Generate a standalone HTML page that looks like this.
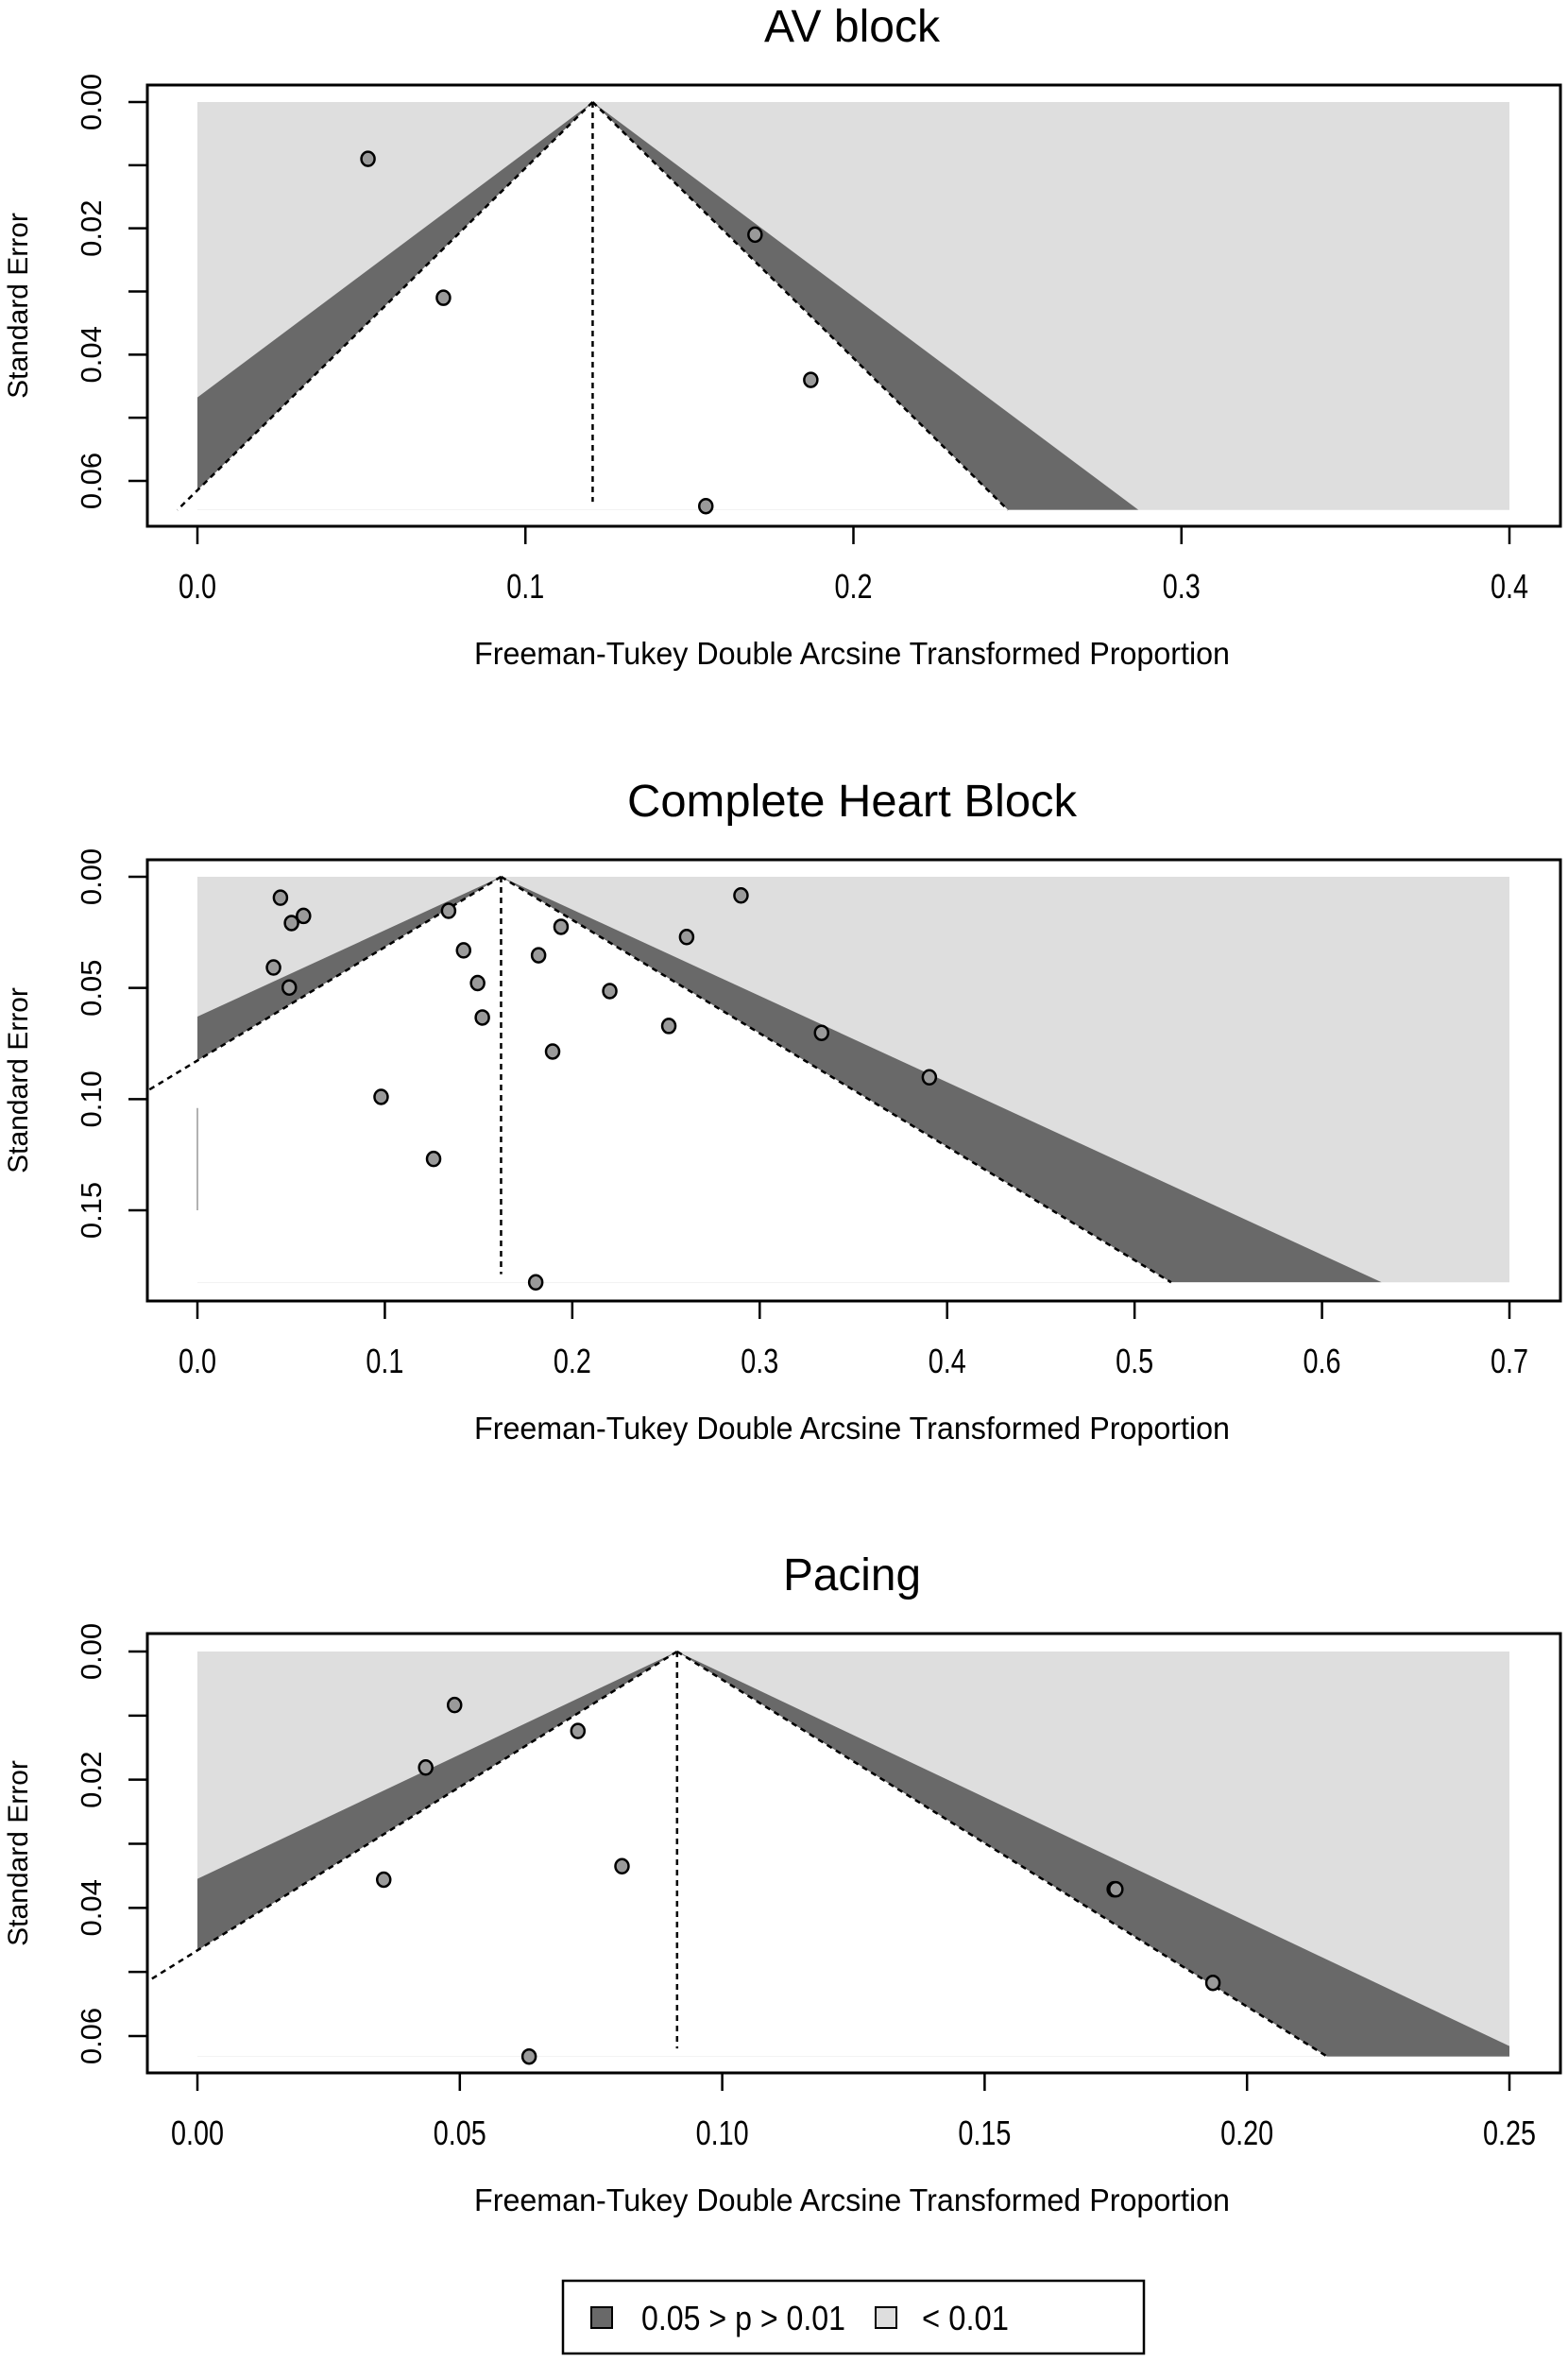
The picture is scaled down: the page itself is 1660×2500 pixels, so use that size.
<!DOCTYPE html>
<html><head><meta charset="utf-8"><style>
html,body{margin:0;padding:0;background:#fff;}
svg{display:block;font-family:"Liberation Sans",sans-serif;}
</style></head><body>
<svg id="chart" width="1660" height="2500" viewBox="0 0 1660 2500" xmlns="http://www.w3.org/2000/svg"></svg>
<script>
// Panel 1: AV block
const avX = [0.052, 0.075, 0.170, 0.187, 0.155];
const avSE = [0.009, 0.031, 0.021, 0.044, 0.064];
const avXTicks = [0.0, 0.1, 0.2, 0.3, 0.4];
const avXTickLabels = ["0.0", "0.1", "0.2", "0.3", "0.4"];
const avYTicks = [0, 0.01, 0.02, 0.03, 0.04, 0.05, 0.06];
const avYTickLabels = ["0.00", "", "0.02", "", "0.04", "", "0.06"];
// Panel 2: Complete Heart Block
const chbX = [0.0443, 0.0566, 0.0502, 0.134, 0.0406, 0.049, 0.142, 0.1495, 0.152, 0.182, 0.194, 0.220, 0.261, 0.290, 0.2515, 0.1895, 0.333, 0.3905, 0.098, 0.126, 0.1805];
const chbSE = [0.0094, 0.0176, 0.0208, 0.0153, 0.0408, 0.0498, 0.0331, 0.0478, 0.0633, 0.0353, 0.0225, 0.0514, 0.0271, 0.0084, 0.0671, 0.0786, 0.0702, 0.0902, 0.099, 0.1269, 0.1824];
const chbXTicks = [0, 0.1, 0.2, 0.3, 0.4, 0.5, 0.6, 0.7];
const chbXTickLabels = ["0.0", "0.1", "0.2", "0.3", "0.4", "0.5", "0.6", "0.7"];
const chbYTicks = [0, 0.05, 0.10, 0.15];
const chbYTickLabels = ["0.00", "0.05", "0.10", "0.15"];
// Panel 3: Pacing
const pacX = [0.049, 0.0725, 0.0435, 0.0355, 0.0809, 0.0632, 0.1747, 0.1750, 0.1935];
const pacSE = [0.00835, 0.0124, 0.0181, 0.0356, 0.0335, 0.0632, 0.0371, 0.0371, 0.0517];
const pacXTicks = [0, 0.05, 0.10, 0.15, 0.20, 0.25];
const pacXTickLabels = ["0.00", "0.05", "0.10", "0.15", "0.20", "0.25"];
const pacYTicks = [0, 0.01, 0.02, 0.03, 0.04, 0.05, 0.06];
const pacYTickLabels = ["0.00", "", "0.02", "", "0.04", "", "0.06"];
// Pooled estimates and SE max
const centers = [0.1205, 0.162, 0.0914];
const seMaxes = [0.0646, 0.1824, 0.0632];

const NS = "http://www.w3.org/2000/svg";
const svg = document.getElementById("chart");
function mk(tag, attrs, parent) {
  const e = document.createElementNS(NS, tag);
  for (const k in attrs) e.setAttribute(k, attrs[k]);
  (parent || svg).appendChild(e);
  return e;
}

function panel(cfg) {
  const g = mk("g", {});
  
  
  const X = v => cfg.x0 + (v - cfg.xmin) * cfg.xs;
  const Y = v => cfg.y0 + v * cfg.ys;
  const c = cfg.center, m = cfg.seMax;
  const clipId = "clip-" + cfg.name;
  const cp = mk("clipPath", {id: clipId}, g);
  mk("rect", {x: X(cfg.xmin), y: Y(0), width: X(cfg.xmax) - X(cfg.xmin), height: Y(m) - Y(0)}, cp);
  const boxClip = "box-" + cfg.name;
  const bc = mk("clipPath", {id: boxClip}, g);
  mk("rect", {x: cfg.bx0, y: cfg.by0, width: cfg.bx1 - cfg.bx0, height: cfg.by1 - cfg.by0}, bc);
  const bg = mk("rect", {x: X(cfg.xmin), y: Y(0), width: X(cfg.xmax) - X(cfg.xmin), height: Y(m) - Y(0), fill: "#dedede"}, g);
  
  
  const fg = mk("g", {"clip-path": "url(#" + clipId + ")"}, g);
  const outer = mk("polygon", {points: `${X(c)},${Y(0)} ${X(c - 2.576 * m)},${Y(m)} ${X(c + 2.576 * m)},${Y(m)}`, fill: "#696969"}, fg);
  
  
  const m2 = m * 1.05;
  const inner = mk("polygon", {points: `${X(c)},${Y(0)} ${X(c - 1.96 * m2)},${Y(m2)} ${X(c + 1.96 * m2)},${Y(m2)}`, fill: "#fff"}, g);
  
  
  inner.setAttribute('clip-path', "url(#" + clipId + ")");
  if (cfg.artifact) {
    const a = mk("line", {x1: X(0), y1: Y(cfg.artifact[0]), x2: X(0), y2: Y(cfg.artifact[1]), stroke: "#999", "stroke-width": 1.5}, g);
    
    
  }
  const dg = mk("g", {"clip-path": "url(#" + boxClip + ")", stroke: "#000", "stroke-width": 2.5, "stroke-dasharray": "6,5", fill: "none"}, g);
  const l1 = mk("line", {x1: X(c), y1: Y(0), x2: X(c - 1.96 * m), y2: Y(m)}, dg);
  
  
  const l2 = mk("line", {x1: X(c), y1: Y(0), x2: X(c + 1.96 * m), y2: Y(m)}, dg);
  
  
  const l3 = mk("line", {x1: X(c), y1: Y(0), x2: X(c), y2: Y(m * 0.98)}, dg);
  
  
  cfg.xs_.forEach((v, i) => {
    const p = mk("ellipse", {cx: X(v), cy: Y(cfg.se[i]), rx: 7, ry: 7.5, fill: "#9a9a9a", stroke: "#000", "stroke-width": 2.5}, g);
    
    
  });
  const box = mk("rect", {x: cfg.bx0, y: cfg.by0, width: cfg.bx1 - cfg.bx0, height: cfg.by1 - cfg.by0, fill: "none", stroke: "#000", "stroke-width": 3}, g);
  
  
  cfg.xt.forEach((v, i) => {
    mk("line", {x1: X(v), y1: cfg.by1, x2: X(v), y2: cfg.by1 + 19, stroke: "#000", "stroke-width": 2.5}, g);
    const t = mk("text", {x: X(v), y: cfg.by1 + 76, "text-anchor": "middle", "font-size": 36, transform: `translate(${X(v)},0) scale(0.8,1) translate(${-X(v)},0)`}, g);
    t.textContent = cfg.xtl[i];
    
    
  });
  cfg.yt.forEach((v, i) => {
    mk("line", {x1: cfg.bx0 - 20, y1: Y(v), x2: cfg.bx0, y2: Y(v), stroke: "#000", "stroke-width": 2.5}, g);
    if (cfg.ytl[i]) {
      const t = mk("text", {x: 0, y: 0, "text-anchor": "middle", "font-size": 31, transform: `translate(107,${Y(v)}) rotate(-90)`}, g);
      t.textContent = cfg.ytl[i];
      
      
    }
  });
  const yl = mk("text", {x: 0, y: 0, "text-anchor": "middle", "font-size": 30, transform: `translate(29,${(cfg.by0 + cfg.by1) / 2}) rotate(-90)`}, g);
  yl.textContent = "Standard Error";
  
  
  const xl = mk("text", {x: 902, y: cfg.by1 + 146, "text-anchor": "middle", "font-size": 33, textLength: 800, lengthAdjust: "spacingAndGlyphs"}, g);
  xl.textContent = "Freeman-Tukey Double Arcsine Transformed Proportion";
  
  
  const ti = mk("text", {x: 902, y: cfg.by0 - 46, "text-anchor": "middle", "font-size": 48, textLength: cfg.titleLen, lengthAdjust: "spacingAndGlyphs"}, g);
  ti.textContent = cfg.title;
  
  
}

panel({name: "av-block-panel", title: "AV block", titleLen: 186, x0: 209, xmin: 0, xmax: 0.4, xs: 1389 / 0.4, y0: 108, ys: 401 / 0.06,
  bx0: 156, bx1: 1652, by0: 90, by1: 557, center: centers[0], seMax: seMaxes[0],
  xs_: avX, se: avSE, xt: avXTicks, xtl: avXTickLabels, yt: avYTicks, ytl: avYTickLabels});
panel({name: "complete-heart-block-panel", title: "Complete Heart Block", titleLen: 476, x0: 209, xmin: 0, xmax: 0.7, xs: 1389 / 0.7, y0: 928, ys: 353 / 0.15,
  bx0: 156, bx1: 1652, by0: 910, by1: 1377, center: centers[1], seMax: seMaxes[1], artifact: [0.104, 0.15],
  xs_: chbX, se: chbSE, xt: chbXTicks, xtl: chbXTickLabels, yt: chbYTicks, ytl: chbYTickLabels});
panel({name: "pacing-panel", title: "Pacing", titleLen: 146, x0: 209, xmin: 0, xmax: 0.25, xs: 1389 / 0.25, y0: 1748, ys: 407 / 0.06,
  bx0: 156, bx1: 1652, by0: 1729, by1: 2194, center: centers[2], seMax: seMaxes[2],
  xs_: pacX, se: pacSE, xt: pacXTicks, xtl: pacXTickLabels, yt: pacYTicks, ytl: pacYTickLabels});

const lg = mk("g", {});


mk("rect", {x: 596, y: 2414, width: 615, height: 77, fill: "#fff", stroke: "#000", "stroke-width": 2.5}, lg);
const s1 = mk("rect", {x: 626, y: 2442, width: 22, height: 22, fill: "#696969", stroke: "#000", "stroke-width": 2}, lg);


const t1 = mk("text", {x: 679, y: 2466, "font-size": 36, textLength: 216, lengthAdjust: "spacingAndGlyphs"}, lg);
t1.textContent = "0.05 > p > 0.01";


const s2 = mk("rect", {x: 927, y: 2442, width: 22, height: 22, fill: "#dedede", stroke: "#000", "stroke-width": 2}, lg);


const t2 = mk("text", {x: 976, y: 2466, "font-size": 36, textLength: 92, lengthAdjust: "spacingAndGlyphs"}, lg);
t2.textContent = "< 0.01";


</script>
</body></html>
